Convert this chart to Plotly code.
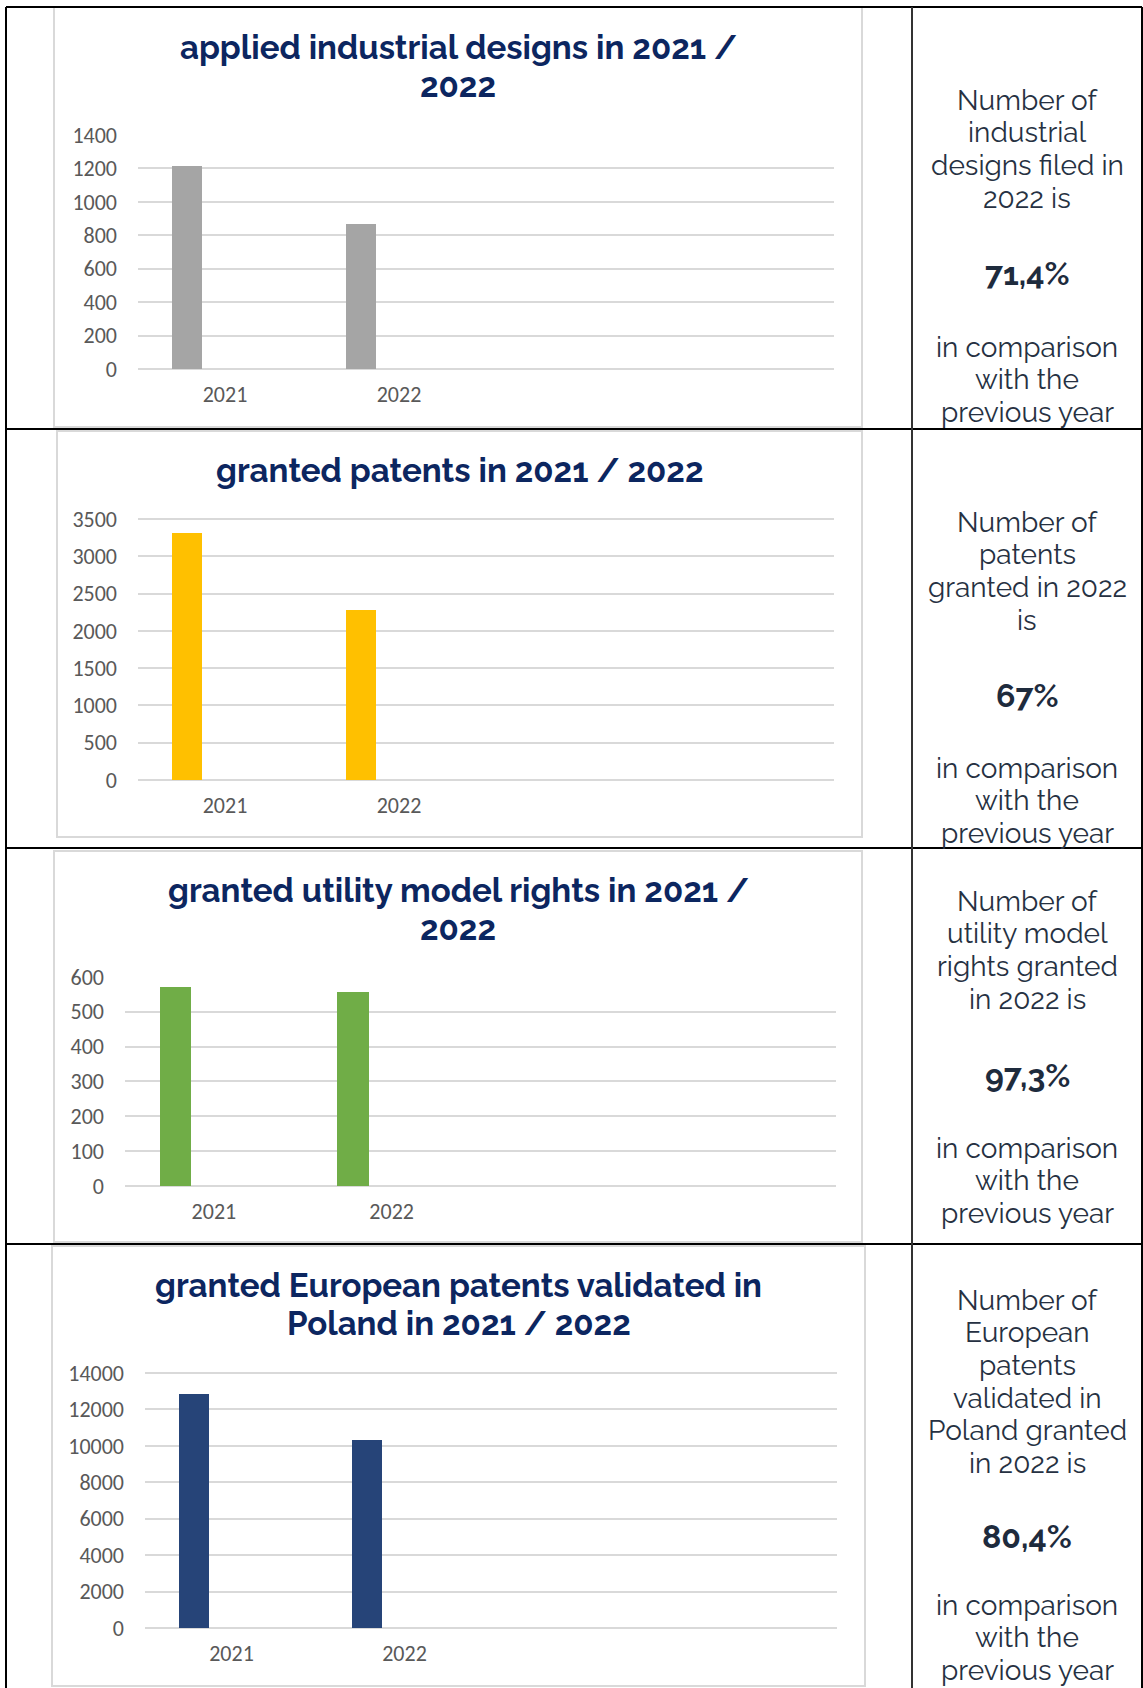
import plotly.graph_objects as go

# ---------------- data ----------------
years = ["2021", "2022"]
slots = ["2021", "2022", " ", "  "]          # Excel category slots (two unused)

designs_applied = [1213, 866]
patents_granted = [3317, 2286]
utility_granted = [571, 556]
european_validated = [12832, 10313]

titles = [
    ["applied industrial designs in 2021 /", "2022"],
    ["granted patents in 2021 / 2022"],
    ["granted utility model rights in 2021 /", "2022"],
    ["granted European patents validated in", "Poland in 2021 / 2022"],
]
y_max = [1400, 3500, 600, 14000]
y_step = [200, 500, 100, 2000]

side_top = [
    ["Number of", "industrial", "designs filed in", "2022 is"],
    ["Number of", "patents", "granted in 2022", "is"],
    ["Number of", "utility model", "rights granted", "in 2022 is"],
    ["Number of", "European", "patents", "validated in", "Poland granted", "in 2022 is"],
]
side_pct = ["71,4%", "67%", "97,3%", "80,4%"]
side_bottom = [["in comparison", "with the", "previous year"]] * 4

series = [designs_applied, patents_granted, utility_granted, european_validated]

# ---------------- style / layout ----------------
W, H = 1143, 1688
colors = ["#a5a5a5", "#ffc000", "#70ad47", "#264478"]
TITLE_C = "#0c2660"
TEXT_C = "#263142"
TICK_C = "#595959"
GRID_C = "#d9d9d9"

# pixel geometry per panel
boxes = [(54, 7, 862, 427), (57, 431, 862, 837), (54, 851, 862, 1242), (52, 1246, 865, 1686)]
plots = [(138, 134, 834, 369), (138, 518, 834, 780), (125, 976, 836, 1186), (145, 1372, 837, 1628)]
title_y0 = [47, 470, 890, 1285]
title_dy = 38
top_y0 = [100, 522, 901, 1300]
pct_y = [273, 695, 1075, 1536]
bot_y0 = [347, 768, 1148, 1605]
line_dy = 32.7
side_x = 1027


def px(x):
    return x / W


def py(y):
    return 1 - y / H


fig = go.Figure()
layout = dict(
    width=W, height=H, margin=dict(l=0, r=0, t=0, b=0, autoexpand=False),
    paper_bgcolor="white", plot_bgcolor="white", showlegend=False,
    bargap=0,
)
shapes = []
annotations = []
TICKFONT = dict(family="Carlito, Lato, sans-serif", size=22, color=TICK_C)


def note(text, x, y, size, color, weight=400, family="Raleway, Lato, sans-serif"):
    annotations.append(dict(
        text=text, xref="paper", yref="paper", x=px(x), y=py(y),
        xanchor="center", yanchor="middle", showarrow=False, align="center",
        font=dict(family=family, size=size, color=color, weight=weight),
    ))


for i in range(4):
    n = "" if i == 0 else str(i + 1)
    x0, y0, x1, y1 = plots[i]
    fig.add_trace(go.Bar(
        x=years, y=series[i], xaxis="x" + n, yaxis="y" + n,
        marker=dict(color=colors[i], line=dict(width=0)),
        width=0.175, offset=-0.305, hoverinfo="x+y",
    ))
    layout["xaxis" + n] = dict(
        domain=[px(x0), px(x1)], anchor="y" + n,
        type="category", categoryorder="array", categoryarray=slots,
        range=[-0.5, 3.5], showgrid=False, zeroline=False, showline=False,
        ticks="", ticklabelstandoff=10, fixedrange=True, tickfont=TICKFONT,
    )
    layout["yaxis" + n] = dict(
        domain=[py(y1), py(y0)], anchor="x" + n,
        range=[0, y_max[i] * 1.004], tickvals=list(range(0, y_max[i] + 1, y_step[i])),
        tickformat="d",
        showgrid=True, gridcolor=GRID_C, gridwidth=1.5,
        zeroline=True, zerolinecolor=GRID_C, zerolinewidth=1.5,
        showline=False, ticks="", ticklabelstandoff=20, fixedrange=True,
        tickfont=TICKFONT,
    )
    bx0, by0, bx1, by1 = boxes[i]
    shapes.append(dict(type="rect", xref="paper", yref="paper",
                       x0=px(bx0), x1=px(bx1), y0=py(by1), y1=py(by0),
                       line=dict(color=GRID_C, width=2), layer="below"))
    for k, line in enumerate(titles[i]):
        note(line, (bx0 + bx1) / 2, title_y0[i] + k * title_dy, 33, TITLE_C, weight=700)
    for k, line in enumerate(side_top[i]):
        note(line, side_x, top_y0[i] + k * line_dy, 28, TEXT_C, weight=400)
    note(side_pct[i], side_x, pct_y[i], 32, "#1e2b3d", weight=700)
    for k, line in enumerate(side_bottom[i]):
        note(line, side_x, bot_y0[i] + k * line_dy, 28, TEXT_C, weight=400)


# table lines
def hline(y, xa=6, xb=1142, color="black", w=2):
    shapes.append(dict(type="line", xref="paper", yref="paper",
                       x0=px(xa), x1=px(xb), y0=py(y), y1=py(y),
                       line=dict(color=color, width=w)))


def vline(x, ya=7, yb=1688, color="black", w=2):
    shapes.append(dict(type="line", xref="paper", yref="paper",
                       x0=px(x), x1=px(x), y0=py(ya), y1=py(yb),
                       line=dict(color=color, width=w)))


for yy in [7, 429, 848, 1244]:
    hline(yy)
vline(6)
vline(912, color="#333333")
vline(1142)

layout["shapes"] = shapes
layout["annotations"] = annotations
fig.update_layout(**layout)
fig.write_html(
    "out.html",
    config={"displayModeBar": False},
    post_script="document.body.style.margin='0';document.body.style.overflow='hidden';",
)
